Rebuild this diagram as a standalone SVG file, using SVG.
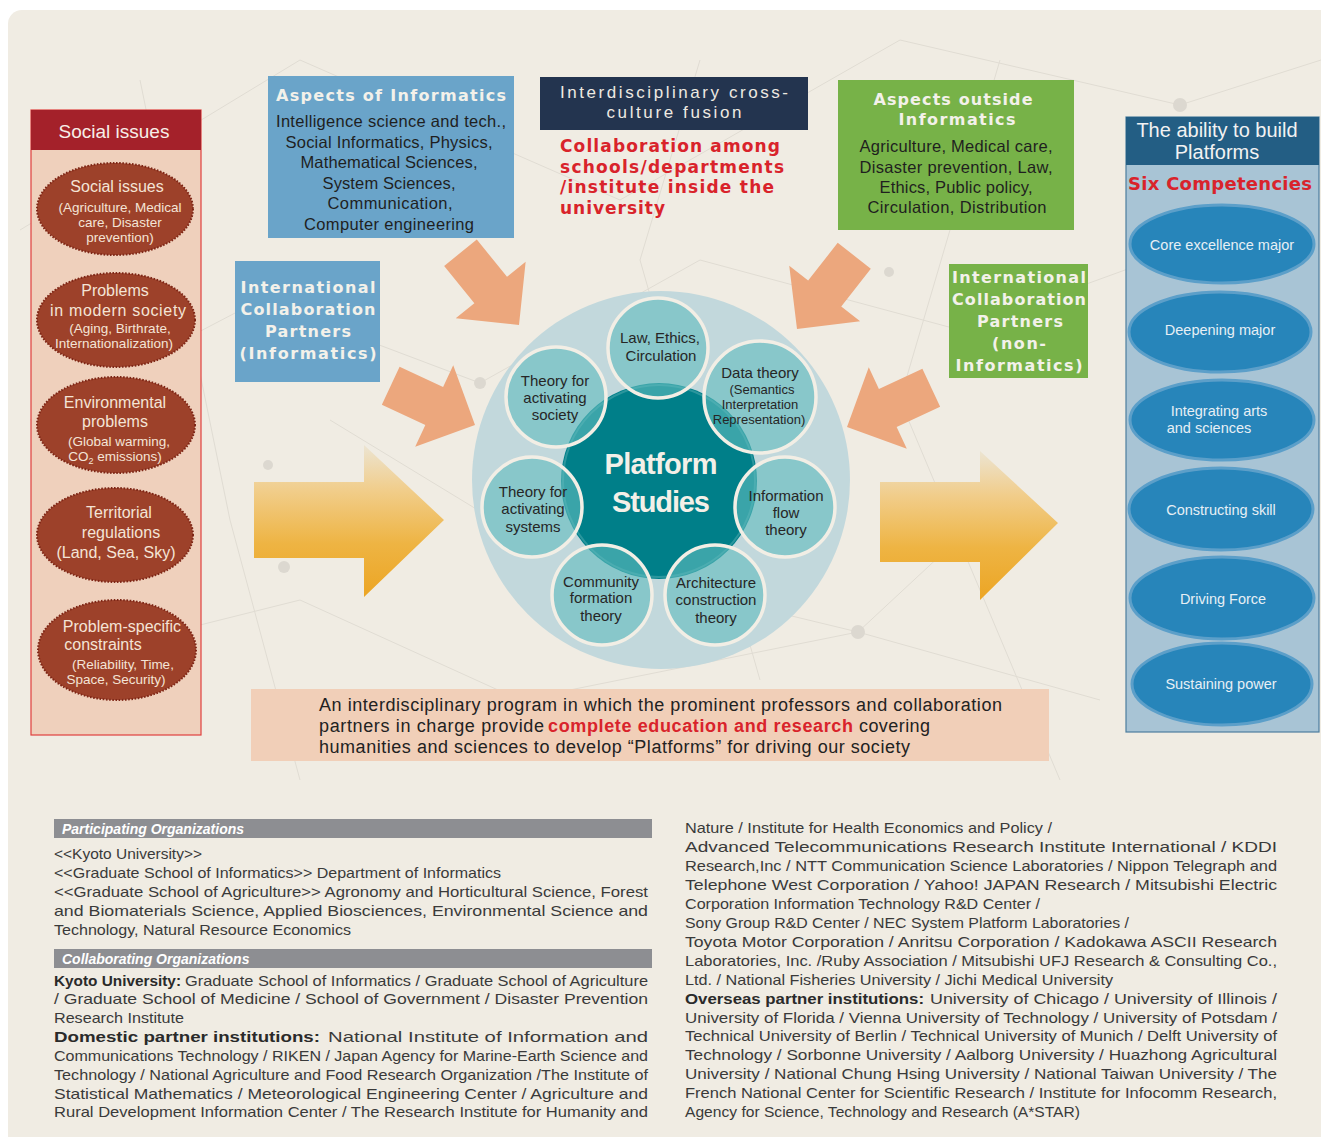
<svg xmlns="http://www.w3.org/2000/svg" width="1321" height="1137" viewBox="0 0 1321 1137">
<defs>
<linearGradient id="yel" x1="0" y1="0" x2="0" y2="1">
<stop offset="0" stop-color="#ece4d2"/>
<stop offset="0.3" stop-color="#f1cd8a"/>
<stop offset="0.65" stop-color="#eeb443"/>
<stop offset="1" stop-color="#eca524"/>
</linearGradient>
<polygon id="oarrow" points="0,0 -45,-45 -45,-21 -93,-21 -93,21 -45,21 -45,45"/>
</defs>
<style>
.sans{font-family:"Liberation Sans",Arial,sans-serif}
.dv{font-family:"DejaVu Sans","Liberation Sans",sans-serif;font-weight:bold}
.ttl{font-family:"DejaVu Sans","Liberation Sans",sans-serif;font-weight:bold;font-size:16px;fill:#f3f1ea;text-anchor:middle}
.body16{font-family:"Liberation Sans",Arial,sans-serif;font-size:16.5px;fill:#1f1f1f;text-anchor:middle}
.sel{fill:#9d412a;stroke:#7e2616;stroke-width:2;stroke-dasharray:1.6 1.6}
.st1{font-family:"Liberation Sans",Arial,sans-serif;font-size:16px;fill:#f4e4d6;text-anchor:middle}
.st2{font-family:"Liberation Sans",Arial,sans-serif;font-size:13.5px;fill:#f4e4d6;text-anchor:middle}
.sc{fill:#61bcbe;fill-opacity:0.6;stroke:#f2eee5;stroke-width:3.5}
.ct{font-family:"Liberation Sans",Arial,sans-serif;font-size:15px;fill:#262626;text-anchor:middle}
.ct2{font-family:"Liberation Sans",Arial,sans-serif;font-size:13px;fill:#262626;text-anchor:middle}
.bel{fill:#2785ba;stroke:#5c9fc9;stroke-width:3}
.bt{font-family:"Liberation Sans",Arial,sans-serif;font-size:14.5px;fill:#e6eff5;text-anchor:middle}
.oa{fill:#eca77d}
.bar{fill:#8d8e92}
.bh{font-family:"Liberation Sans",Arial,sans-serif;font-size:14px;font-weight:bold;font-style:italic;fill:#ffffff}
.bl{font-family:"Liberation Sans",Arial,sans-serif;font-size:15px;fill:#3a3a3a}
.bb{font-family:"Liberation Sans",Arial,sans-serif;font-size:15px;fill:#2a2a2a;font-weight:bold}
.net{stroke:#e0dcd3;stroke-width:1;fill:none}
.dot{fill:#dcd8d0}
</style>

<rect x="8" y="10" width="1340" height="1140" rx="14" fill="#f0ece3"/>

<g id="background-network">
<path class="net" d="M20 230 L300 60 L620 200 L900 40 L1180 105 L1321 60"/>
<path class="net" d="M30 420 L260 300 L480 383 L700 260 L960 330 L1180 250"/>
<path class="net" d="M60 660 L300 600 L520 700 L858 632 L1100 700"/>
<path class="net" d="M140 80 L230 520 L300 780"/>
<path class="net" d="M1000 60 L900 400 L1060 780"/>
<path class="net" d="M700 60 L640 260 L760 680"/>
<path class="net" d="M330 420 L560 560 L858 632 L1000 500"/>
<circle class="dot" cx="1180" cy="105" r="7" fill="#c9cdd3"/>
<circle class="dot" cx="480" cy="383" r="6"/>
<circle class="dot" cx="858" cy="632" r="7"/>
<circle class="dot" cx="284" cy="567" r="6"/>
<circle class="dot" cx="818" cy="306" r="6"/>
<circle class="dot" cx="889" cy="272" r="5"/>
<circle class="dot" cx="268" cy="465" r="5"/>
<circle class="dot" cx="710" cy="100" r="4"/>
<circle class="dot" cx="1045" cy="320" r="4"/>
</g>

<g id="connectors">
<polygon points="254,482 364,482 364,445 444,520 364,597 364,558 254,558" fill="url(#yel)"/>
<polygon points="880,482 980,482 980,451 1058,523 980,600 980,562 880,562" fill="url(#yel)"/>
<use href="#oarrow" class="oa" transform="translate(519,325) rotate(51)"/>
<use href="#oarrow" class="oa" transform="translate(475,425) rotate(25)"/>
<use href="#oarrow" class="oa" transform="translate(797,329) rotate(128)"/>
<use href="#oarrow" class="oa" transform="translate(847,427) rotate(155)"/>
</g>

<g id="social-issues-column">
<rect x="31" y="110" width="170" height="625" fill="#efd0bc" stroke="#e0403e" stroke-width="1.2"/>
<rect x="31" y="110" width="170" height="40" fill="#a4212a"/>
<text x="114" y="138" class="sans" font-size="19" fill="#f7eee8" text-anchor="middle">Social issues</text>
</g>
<g id="social-issues">
<ellipse class="sel" cx="115" cy="209" rx="78" ry="46"/>
<text class="st1" x="117" y="192">Social issues</text>
<text class="st2" x="120" y="212">(Agriculture, Medical</text>
<text class="st2" x="120" y="227">care, Disaster</text>
<text class="st2" x="120" y="242">prevention)</text>
</g>
<g id="problems-modern-society">
<ellipse class="sel" cx="116" cy="320" rx="79" ry="47"/>
<text class="st1" x="115" y="296">Problems</text>
<text class="st1" x="118" y="316" textLength="136">in modern society</text>
<text class="st2" x="120" y="333">(Aging, Birthrate,</text>
<text class="st2" x="114" y="348">Internationalization)</text>
</g>
<g id="environmental-problems">
<ellipse class="sel" cx="116" cy="425" rx="79" ry="48"/>
<text class="st1" x="115" y="408">Environmental</text>
<text class="st1" x="115" y="427">problems</text>
<text class="st2" x="119" y="446">(Global warming,</text>
<text class="st2" x="115" y="461">CO<tspan font-size="9" dy="3">2</tspan><tspan dy="-3"> emissions)</tspan></text>
</g>
<g id="territorial-regulations">
<ellipse class="sel" cx="115" cy="535" rx="78" ry="47"/>
<text class="st1" x="119" y="518">Territorial</text>
<text class="st1" x="121" y="538">regulations</text>
<text class="st1" x="116" y="558" font-size="15">(Land, Sea, Sky)</text>
</g>
<g id="problem-specific-constraints">
<ellipse class="sel" cx="117" cy="650" rx="79" ry="50"/>
<text class="st1" x="122" y="632" font-size="15">Problem-specific</text>
<text class="st1" x="103" y="650" font-size="15">constraints</text>
<text class="st2" x="123" y="669">(Reliability, Time,</text>
<text class="st2" x="116" y="684">Space, Security)</text>
</g>

<g id="aspects-of-informatics">
<rect x="268" y="76" width="246" height="162" fill="#6aa4c9"/>
<text class="ttl" x="391" y="101" font-size="17" textLength="230">Aspects of Informatics</text>
<text class="body16" x="391" y="127" textLength="230">Intelligence science and tech.,</text>
<text class="body16" x="389" y="148" textLength="207">Social Informatics, Physics,</text>
<text class="body16" x="389" y="168" textLength="177">Mathematical Sciences,</text>
<text class="body16" x="389" y="189" textLength="133">System Sciences,</text>
<text class="body16" x="390" y="209" textLength="125">Communication,</text>
<text class="body16" x="389" y="230" textLength="170">Computer engineering</text>
</g>

<g id="interdisciplinary-fusion">
<rect x="540" y="77" width="268" height="53" fill="#23344f"/>
<text class="sans" x="674" y="98" font-size="17" fill="#eeeae2" text-anchor="middle" textLength="228">Interdisciplinary cross-</text>
<text class="sans" x="674" y="118" font-size="17" fill="#eeeae2" text-anchor="middle" textLength="135">culture fusion</text>
<text class="dv" x="560" y="152" font-size="17" fill="#d9232b" textLength="220">Collaboration among</text>
<text class="dv" x="560" y="173" font-size="17" fill="#d9232b" textLength="224">schools/departments</text>
<text class="dv" x="560" y="193" font-size="17" fill="#d9232b" textLength="214">/institute inside the</text>
<text class="dv" x="560" y="214" font-size="17" fill="#d9232b" textLength="105">university</text>
</g>

<g id="intl-partners-informatics">
<rect x="235" y="261" width="145" height="121" fill="#6aa4c9"/>
<text class="ttl" x="308" y="293" font-size="17" textLength="135">International</text>
<text class="ttl" x="308" y="315" font-size="17" textLength="135">Collaboration</text>
<text class="ttl" x="308" y="337" font-size="17" textLength="86">Partners</text>
<text class="ttl" x="308" y="359" font-size="17" textLength="137">(Informatics)</text>
</g>

<g id="aspects-outside-informatics">
<rect x="838" y="80" width="236" height="150" fill="#77b248"/>
<text class="ttl" x="953" y="105" font-size="17" textLength="159">Aspects outside</text>
<text class="ttl" x="957" y="125" font-size="17" textLength="117">Informatics</text>
<text class="body16" x="956" y="152" textLength="193">Agriculture, Medical care,</text>
<text class="body16" x="956" y="173" textLength="193">Disaster prevention, Law,</text>
<text class="body16" x="956" y="193" textLength="153">Ethics, Public policy,</text>
<text class="body16" x="957" y="213" textLength="179">Circulation, Distribution</text>
</g>

<g id="intl-partners-non-informatics">
<rect x="949" y="264" width="139" height="114" fill="#77b248"/>
<text class="ttl" x="1019" y="283" font-size="17" textLength="134">International</text>
<text class="ttl" x="1019" y="305" font-size="17" textLength="134">Collaboration</text>
<text class="ttl" x="1020" y="327" font-size="17" textLength="86">Partners</text>
<text class="ttl" x="1019" y="349" font-size="17" textLength="54">(non-</text>
<text class="ttl" x="1019" y="371" font-size="17" textLength="127">Informatics)</text>
</g>

<g id="platform-studies">
<circle cx="661" cy="480" r="189" fill="#c2d8dc"/>
<circle cx="659" cy="481" r="98" fill="#007f89"/>
<circle cx="659" cy="481" r="96" fill="none" stroke="#2b969d" stroke-width="2"/>
<circle class="sc" cx="658" cy="348" r="50"/>
<circle class="sc" cx="760" cy="397" r="56"/>
<circle class="sc" cx="785" cy="507" r="50"/>
<circle class="sc" cx="715" cy="595" r="50"/>
<circle class="sc" cx="602" cy="595" r="50"/>
<circle class="sc" cx="532" cy="507" r="50"/>
<circle class="sc" cx="556" cy="397" r="50"/>
<text class="sans" x="661" y="474" font-size="29" font-weight="bold" fill="#f3f0e8" text-anchor="middle" textLength="113">Platform</text>
<text class="sans" x="661" y="512" font-size="29" font-weight="bold" fill="#f3f0e8" text-anchor="middle" textLength="98">Studies</text>
</g>
<g id="law-ethics">
<text class="ct" x="660" y="343">Law, Ethics,</text>
<text class="ct" x="661" y="361">Circulation</text>
</g>
<g id="data-theory">
<text class="ct" x="760" y="378">Data theory</text>
<text class="ct2" x="762" y="394">(Semantics</text>
<text class="ct2" x="760" y="409">Interpretation</text>
<text class="ct2" x="759" y="424">Representation)</text>
</g>
<g id="information-flow-theory">
<text class="ct" x="786" y="501">Information</text>
<text class="ct" x="786" y="518">flow</text>
<text class="ct" x="786" y="535">theory</text>
</g>
<g id="architecture-construction-theory">
<text class="ct" x="716" y="588">Architecture</text>
<text class="ct" x="716" y="605">construction</text>
<text class="ct" x="716" y="623">theory</text>
</g>
<g id="community-formation-theory">
<text class="ct" x="601" y="587">Community</text>
<text class="ct" x="601" y="603">formation</text>
<text class="ct" x="601" y="621">theory</text>
</g>
<g id="theory-activating-systems">
<text class="ct" x="533" y="497">Theory for</text>
<text class="ct" x="533" y="514">activating</text>
<text class="ct" x="533" y="532">systems</text>
</g>
<g id="theory-activating-society">
<text class="ct" x="555" y="386">Theory for</text>
<text class="ct" x="555" y="403">activating</text>
<text class="ct" x="555" y="420">society</text>
</g>

<g id="platform-ability-column">
<rect x="1126" y="117" width="193" height="615" fill="#a8c4d5" stroke="#4d7e9e" stroke-width="1.2"/>
<rect x="1126" y="117" width="193" height="48" fill="#235e84"/>
<text class="sans" x="1217" y="137" font-size="20" fill="#f2f2f2" text-anchor="middle">The ability to build</text>
<text class="sans" x="1217" y="159" font-size="20" fill="#f2f2f2" text-anchor="middle">Platforms</text>
<text class="dv" x="1220" y="190" font-size="18" fill="#d9232b" text-anchor="middle" textLength="184">Six Competencies</text>
</g>
<g id="core-excellence-major">
<ellipse class="bel" cx="1222" cy="244" rx="92" ry="39"/>
<text class="bt" x="1222" y="250">Core excellence major</text>
</g>
<g id="deepening-major">
<ellipse class="bel" cx="1220" cy="332" rx="91" ry="40"/>
<text class="bt" x="1220" y="335">Deepening major</text>
</g>
<g id="integrating-arts-sciences">
<ellipse class="bel" cx="1222" cy="420" rx="92" ry="40"/>
<text class="bt" x="1219" y="416">Integrating arts</text>
<text class="bt" x="1209" y="433">and sciences</text>
</g>
<g id="constructing-skill">
<ellipse class="bel" cx="1221" cy="509" rx="92" ry="41"/>
<text class="bt" x="1221" y="515">Constructing skill</text>
</g>
<g id="driving-force">
<ellipse class="bel" cx="1222" cy="598" rx="92" ry="41"/>
<text class="bt" x="1223" y="604">Driving Force</text>
</g>
<g id="sustaining-power">
<ellipse class="bel" cx="1222" cy="684" rx="90" ry="41"/>
<text class="bt" x="1221" y="689">Sustaining power</text>
</g>

<g id="program-summary">
<rect x="251" y="689" width="798" height="72" fill="#f1cfb8"/>
<text class="sans" x="319" y="711" font-size="18" fill="#222" textLength="683">An interdisciplinary program in which the prominent professors and collaboration</text>
<text class="sans" x="319" y="732" font-size="18" fill="#222" textLength="225">partners in charge provide</text>
<text class="sans" x="548" y="732" font-size="18" fill="#d9232b" font-weight="bold" textLength="305">complete education and research</text>
<text class="sans" x="859" y="732" font-size="18" fill="#222" textLength="71">covering</text>
<text class="sans" x="319" y="753" font-size="18" fill="#222" textLength="591">humanities and sciences to develop “Platforms” for driving our society</text>
</g>

<g id="organizations-left">
<rect class="bar" x="54" y="819" width="598" height="19"/>
<text class="bh" x="62" y="834">Participating Organizations</text>
<text class="bl" x="54" y="859" textLength="148" lengthAdjust="spacingAndGlyphs">&lt;&lt;Kyoto University&gt;&gt;</text>
<text class="bl" x="54" y="878" textLength="447" lengthAdjust="spacingAndGlyphs">&lt;&lt;Graduate School of Informatics&gt;&gt; Department of Informatics</text>
<text class="bl" x="54" y="897" textLength="594" lengthAdjust="spacingAndGlyphs">&lt;&lt;Graduate School of Agriculture&gt;&gt; Agronomy and Horticultural Science, Forest</text>
<text class="bl" x="54" y="916" textLength="594" lengthAdjust="spacingAndGlyphs">and Biomaterials Science, Applied Biosciences, Environmental Science and</text>
<text class="bl" x="54" y="935" textLength="297" lengthAdjust="spacingAndGlyphs">Technology, Natural Resource Economics</text>
<rect class="bar" x="54" y="949" width="598" height="19"/>
<text class="bh" x="62" y="964">Collaborating Organizations</text>
<text class="bb" x="54" y="986" textLength="127" lengthAdjust="spacingAndGlyphs">Kyoto University:</text>
<text class="bl" x="185" y="986" textLength="463" lengthAdjust="spacingAndGlyphs">Graduate School of Informatics / Graduate School of Agriculture</text>
<text class="bl" x="54" y="1004" textLength="594" lengthAdjust="spacingAndGlyphs">/ Graduate School of Medicine / School of Government / Disaster Prevention</text>
<text class="bl" x="54" y="1023" textLength="130" lengthAdjust="spacingAndGlyphs">Research Institute</text>
<text class="bb" x="54" y="1042" textLength="266" lengthAdjust="spacingAndGlyphs">Domestic partner institutions:</text>
<text class="bl" x="328" y="1042" textLength="320" lengthAdjust="spacingAndGlyphs">National Institute of Information and</text>
<text class="bl" x="54" y="1061" textLength="594" lengthAdjust="spacingAndGlyphs">Communications Technology / RIKEN / Japan Agency for Marine-Earth Science and</text>
<text class="bl" x="54" y="1080" textLength="594" lengthAdjust="spacingAndGlyphs">Technology / National Agriculture and Food Research Organization /The Institute of</text>
<text class="bl" x="54" y="1099" textLength="594" lengthAdjust="spacingAndGlyphs">Statistical Mathematics / Meteorological Engineering Center / Agriculture and</text>
<text class="bl" x="54" y="1117" textLength="594" lengthAdjust="spacingAndGlyphs">Rural Development Information Center / The Research Institute for Humanity and</text>
</g>

<g id="organizations-right">
<text class="bl" x="685" y="833" textLength="367" lengthAdjust="spacingAndGlyphs">Nature / Institute for Health Economics and Policy /</text>
<text class="bl" x="685" y="852" textLength="592" lengthAdjust="spacingAndGlyphs">Advanced Telecommunications Research Institute International / KDDI</text>
<text class="bl" x="685" y="871" textLength="592" lengthAdjust="spacingAndGlyphs">Research,Inc / NTT Communication Science Laboratories / Nippon Telegraph and</text>
<text class="bl" x="685" y="890" textLength="592" lengthAdjust="spacingAndGlyphs">Telephone West Corporation / Yahoo! JAPAN Research / Mitsubishi Electric</text>
<text class="bl" x="685" y="909" textLength="355" lengthAdjust="spacingAndGlyphs">Corporation Information Technology R&amp;D Center /</text>
<text class="bl" x="685" y="928" textLength="444" lengthAdjust="spacingAndGlyphs">Sony Group R&amp;D Center / NEC System Platform Laboratories /</text>
<text class="bl" x="685" y="947" textLength="592" lengthAdjust="spacingAndGlyphs">Toyota Motor Corporation / Anritsu Corporation / Kadokawa ASCII Research</text>
<text class="bl" x="685" y="966" textLength="592" lengthAdjust="spacingAndGlyphs">Laboratories, Inc. /Ruby Association / Mitsubishi UFJ Research &amp; Consulting Co.,</text>
<text class="bl" x="685" y="985" textLength="428" lengthAdjust="spacingAndGlyphs">Ltd. / National Fisheries University / Jichi Medical University</text>
<text class="bb" x="685" y="1004" textLength="239" lengthAdjust="spacingAndGlyphs">Overseas partner institutions:</text>
<text class="bl" x="930" y="1004" textLength="347" lengthAdjust="spacingAndGlyphs">University of Chicago / University of Illinois /</text>
<text class="bl" x="685" y="1023" textLength="592" lengthAdjust="spacingAndGlyphs">University of Florida / Vienna University of Technology / University of Potsdam /</text>
<text class="bl" x="685" y="1041" textLength="592" lengthAdjust="spacingAndGlyphs">Technical University of Berlin / Technical University of Munich / Delft University of</text>
<text class="bl" x="685" y="1060" textLength="592" lengthAdjust="spacingAndGlyphs">Technology / Sorbonne University / Aalborg University / Huazhong Agricultural</text>
<text class="bl" x="685" y="1079" textLength="592" lengthAdjust="spacingAndGlyphs">University / National Chung Hsing University / National Taiwan University / The</text>
<text class="bl" x="685" y="1098" textLength="592" lengthAdjust="spacingAndGlyphs">French National Center for Scientific Research / Institute for Infocomm Research,</text>
<text class="bl" x="685" y="1117" textLength="395" lengthAdjust="spacingAndGlyphs">Agency for Science, Technology and Research (A*STAR)</text>
</g>
</svg>
